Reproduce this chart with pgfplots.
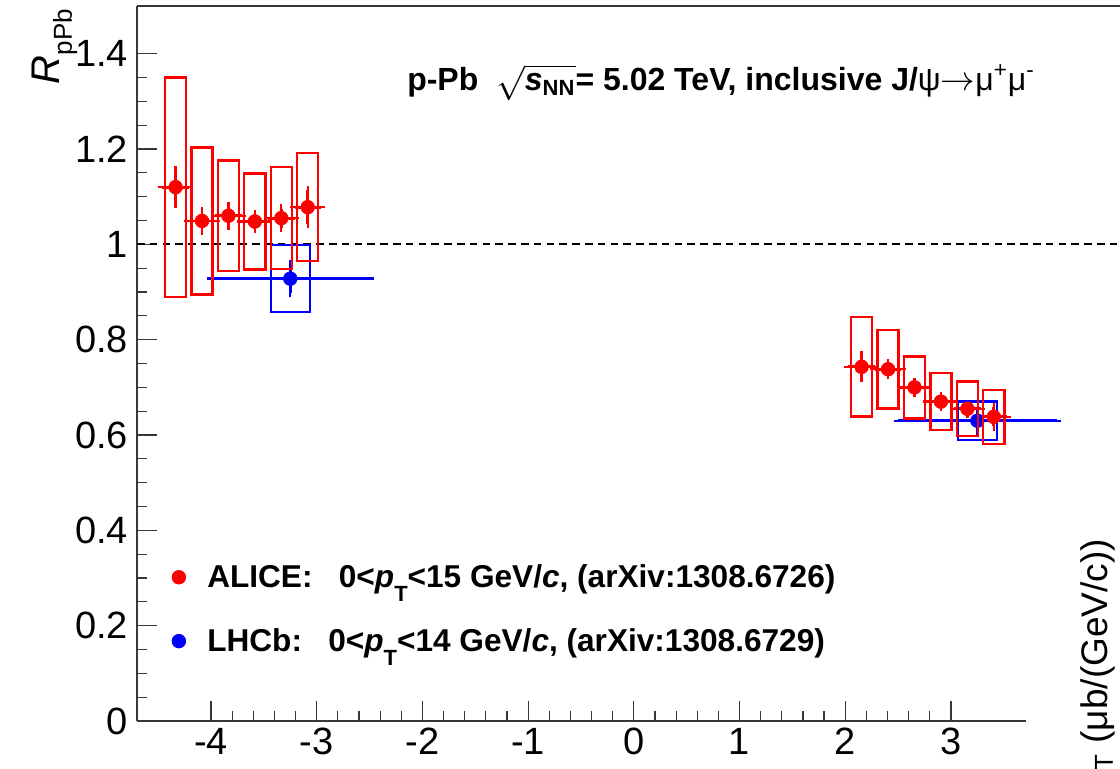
\documentclass[border=0pt]{standalone}
\usepackage{fontspec}
\setmainfont{Liberation Sans}
\usepackage{pgfplots}
\pgfplotsset{compat=1.18}
\usepackage{pgfplotstable}

\definecolor{rootred}{RGB}{255,0,0}
\definecolor{rootblue}{RGB}{0,0,255}
\definecolor{axisgray}{RGB}{55,55,55}

% ALICE inclusive J/psi R_pPb: rapidity, value, half bin width, stat, syst
\pgfplotstableread{
x      y     ex    stat  syst
-4.335 1.120 0.125 0.035 0.230
-4.085 1.049 0.125 0.020 0.154
-3.835 1.060 0.125 0.020 0.116
-3.585 1.048 0.125 0.015 0.101
-3.335 1.055 0.125 0.020 0.107
-3.085 1.078 0.125 0.035 0.113
 2.155 0.743 0.125 0.023 0.104
 2.405 0.738 0.125 0.012 0.082
 2.655 0.700 0.125 0.010 0.065
 2.905 0.670 0.125 0.010 0.060
 3.155 0.655 0.125 0.010 0.057
 3.405 0.638 0.125 0.020 0.057
}\alice

% LHCb
\pgfplotstableread{
x     y     ex   stat  syst
-3.25 0.928 0.75 0.030 0.070
 3.25 0.630 0.75 0.020 0.040
}\lhcb

% open boxes for the systematic uncertainties; the half height is the mark size
\pgfdeclareplotmark{sysboxA}{%
  \pgfpathrectangle{\pgfpoint{-5.285pt}{-\pgfplotmarksize}}{\pgfpoint{10.57pt}{2*\pgfplotmarksize}}%
  \pgfusepathqstroke}
\pgfdeclareplotmark{sysboxL}{%
  \pgfpathrectangle{\pgfpoint{-9.78pt}{-\pgfplotmarksize}}{\pgfpoint{19.56pt}{2*\pgfplotmarksize}}%
  \pgfusepathqstroke}

\pgfplotsset{
  sysbox/.style={forget plot, only marks, scatter,
    scatter/use mapped color={draw=#1},
    mark options={line width=1.2pt, solid},
    visualization depends on={238.333*\thisrow{syst} \as \sysh},
    scatter/@pre marker code/.append style={/tikz/mark size=\sysh}},
  statpts/.style={#1, only marks, mark=*, mark size=3.4pt,
    error bars/.cd, x dir=both, x explicit, y dir=both, y explicit,
    error bar style={line width=1.4pt, #1},
    error mark options={mark size=2.2pt, line width=1.2pt, #1}},
}

\begin{document}
\begin{tikzpicture}
\useasboundingbox (0,0) rectangle (560pt,384pt);
\begin{axis}[
  at={(68.5pt,23.5pt)}, anchor=south west,
  scale only axis, width=444.5pt, height=357.5pt,
  xmin=-4.7, xmax=3.71, ymin=0, ymax=1.5,
  clip=false,
  axis lines*=left,
  axis line style={-, line width=1pt, axisgray},
  xtick={-4,-3,-2,-1,0,1,2,3},
  minor x tick num=4,
  ytick={0,0.2,0.4,0.6,0.8,1,1.2,1.4},
  minor y tick num=3,
  tick align=inside,
  major tick length=10pt, minor tick length=5pt,
  tick style={line width=0.6pt, axisgray},
  /pgf/number format/assume math mode=true,
  tick label style={font=\fontsize{19}{21}\selectfont},
  yticklabel style={xshift=-1pt},
  ylabel={\textit{R}\raisebox{-0.3em}{\fontsize{13}{14}\selectfont pPb}},
  every axis y label/.style={at={([xshift=-38.5pt,yshift=2pt]axis description cs:0,1)},
    rotate=90, anchor=base east, font=\fontsize{20}{22}\selectfont},
  legend style={draw=none, fill=none, at={(axis cs:-4.425,0.338)}, anchor=north west,
    font=\fontsize{15.8}{18}\selectfont\bfseries, row sep=15pt,
    inner sep=0pt, nodes={inner sep=2pt}},
  legend cell align=left,
  reverse legend,
  legend image code/.code={\draw[#1, mark repeat=2, mark phase=2]
    plot coordinates {(0pt,0pt)(6pt,0pt)(12pt,0pt)}; \path (0pt,0pt) (18pt,0pt);},
]
% reference line at unity
\addplot[forget plot, line width=1.1pt, black, dash pattern=on 3.8pt off 2.6pt]
  coordinates {(-4.7,1) (4.8,1)};
% frame line along the top
\draw[line width=1pt, axisgray] (axis cs:-4.7,1.5) -- (axis cs:4.8,1.5);

% LHCb
\addplot[sysbox=rootblue, mark=sysboxL] table[x=x, y=y] {\lhcb};
\addplot[statpts=rootblue] table[x=x, y=y, x error=ex, y error=stat] {\lhcb};
\addlegendentry{LHCb:\ \ \ 0<\textit{p}\raisebox{-0.45em}{\fontsize{11}{12}\selectfont T}<14 GeV/\textit{c}, (arXiv:1308.6729)}

% ALICE
\addplot[sysbox=rootred, mark=sysboxA] table[x=x, y=y] {\alice};
\addplot[statpts=rootred] table[x=x, y=y, x error=ex, y error=stat] {\alice};
\addlegendentry{ALICE:\ \ \ 0<\textit{p}\raisebox{-0.45em}{\fontsize{11}{12}\selectfont T}<15 GeV/\textit{c}, (arXiv:1308.6726)}

\node[anchor=base west, font=\fontsize{16}{19}\selectfont\bfseries]
  at (axis cs:-2.21,1.323)
  {p-Pb\ \ $\sqrt{\mbox{\bfseries\itshape s}_{\mbox{\bfseries\fontsize{11}{12}\selectfont NN}}}$= 5.02 TeV, inclusive J/{\mdseries ψ}$\rightarrow${\mdseries μ\textsuperscript{+}μ\textsuperscript{-}}};
\end{axis}
% title of the neighbouring panel
\node[rotate=90, anchor=base east, font=\fontsize{18.5}{20}\selectfont]
  at (553.5pt,118pt) {\textit{p}\textsubscript{T} (μb/(GeV/c))};
\end{tikzpicture}
\end{document}
